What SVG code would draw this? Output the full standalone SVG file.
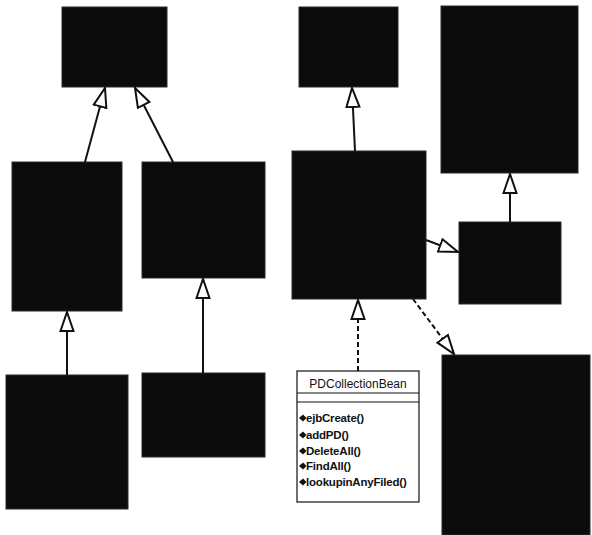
<svg xmlns="http://www.w3.org/2000/svg" width="592" height="535" viewBox="0 0 592 535">
<style>
.blk{fill:#0b0b0b;stroke:#2a2a2a;stroke-width:1}
.cls{fill:#fff;stroke:#111;stroke-width:1.2}
.sep{stroke:#111;stroke-width:1.2}
.ln{stroke:#111;stroke-width:2;fill:none;marker-end:url(#tri)}
.dash{stroke-dasharray:5,3}
.title{font-family:"Liberation Sans",Arial,sans-serif;font-size:12px;fill:#111}
.op{font-family:"Liberation Sans",Arial,sans-serif;font-size:11.5px;font-weight:bold;fill:#111;letter-spacing:-0.2px}
.ic{fill:#111}
</style>
<defs>
<marker id="tri" viewBox="0 0 22 16" refX="20" refY="8" markerWidth="22" markerHeight="16" markerUnits="userSpaceOnUse" orient="auto">
<path d="M1,1.5 L20,8 L1,14.5 Z" fill="#fff" stroke="#111" stroke-width="2" stroke-linejoin="miter"/>
</marker>
</defs>
<rect width="592" height="535" fill="#fff"/>
<g id="nodeA"><rect class="blk" x="62" y="7" width="105" height="80"/></g>
<g id="nodeB"><rect class="blk" x="12" y="162" width="110" height="149"/></g>
<g id="nodeC"><rect class="blk" x="142" y="162" width="123" height="116"/></g>
<g id="nodeD"><rect class="blk" x="6" y="375" width="122" height="134"/></g>
<g id="nodeE"><rect class="blk" x="142" y="373" width="123" height="84"/></g>
<g id="nodeF"><rect class="blk" x="299" y="7" width="99" height="80"/></g>
<g id="nodeG"><rect class="blk" x="292" y="151" width="134" height="148"/></g>
<g id="nodeH"><rect class="blk" x="441" y="6" width="137" height="167"/></g>
<g id="nodeI"><rect class="blk" x="459" y="222" width="102" height="82"/></g>
<g id="nodeJ"><rect class="blk" x="442" y="355" width="148" height="180"/></g>
<g id="PDCollectionBean">
<rect class="cls" x="297" y="371" width="122" height="131"/>
<line class="sep" x1="297" y1="393" x2="419" y2="393"/>
<line class="sep" x1="297" y1="402" x2="419" y2="402"/>
<text class="title" x="358" y="388" text-anchor="middle">PDCollectionBean</text>
<g class="ic">
<path d="M299,418 l4,-3.5 l3.5,3.5 l-3.5,3.5 z"/>
<path d="M299,435 l4,-3.5 l3.5,3.5 l-3.5,3.5 z"/>
<path d="M299,451 l4,-3.5 l3.5,3.5 l-3.5,3.5 z"/>
<path d="M299,466 l4,-3.5 l3.5,3.5 l-3.5,3.5 z"/>
<path d="M299,482 l4,-3.5 l3.5,3.5 l-3.5,3.5 z"/>
</g>
<text class="op" x="306" y="422">ejbCreate()</text>
<text class="op" x="306" y="439">addPD()</text>
<text class="op" x="306" y="455">DeleteAll()</text>
<text class="op" x="306" y="470">FindAll()</text>
<text class="op" x="306" y="486">lookupinAnyFiled()</text>
</g>
<g id="connectors">
<line class="ln" x1="85" y1="162" x2="105" y2="88"/>
<line class="ln" x1="173" y1="162" x2="135" y2="88"/>
<line class="ln" x1="67" y1="375" x2="67" y2="312"/>
<line class="ln" x1="203" y1="373" x2="203" y2="279"/>
<line class="ln" x1="355" y1="151" x2="352" y2="88"/>
<line class="ln" x1="510" y1="222" x2="510" y2="174"/>
<line class="ln" x1="426" y1="240" x2="458" y2="252"/>
<line class="ln dash" x1="358" y1="371" x2="358" y2="300"/>
<line class="ln dash" x1="413" y1="299" x2="454" y2="354"/>
</g>
</svg>
